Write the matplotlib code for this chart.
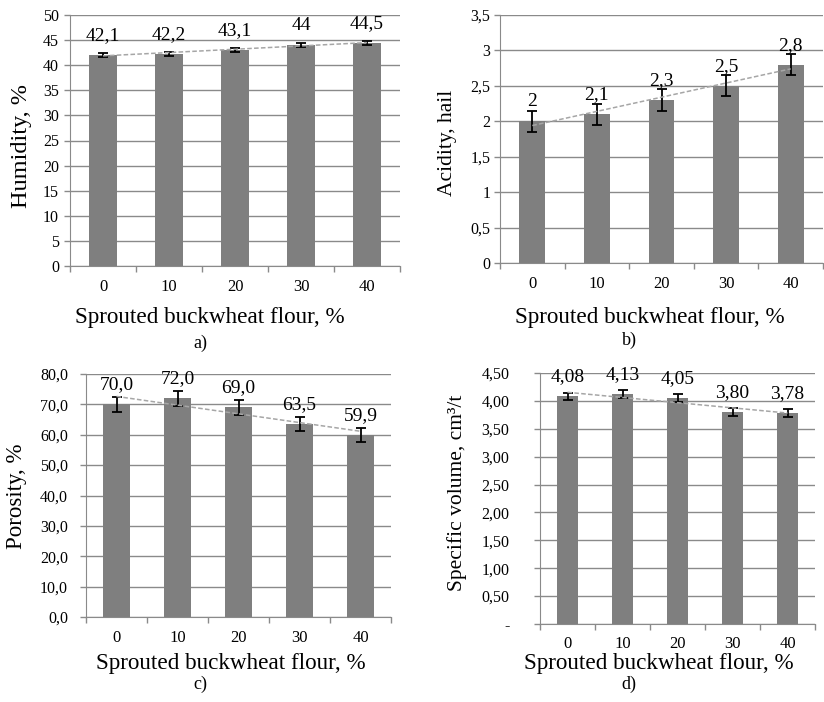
"""Figura de calidad del pan con harina de trigo sarraceno germinado:
humedad, acidez, porosidad y volumen específico (cuatro paneles)."""

import matplotlib
matplotlib.use("Agg")
import matplotlib.pyplot as plt
import numpy as np
from matplotlib.ticker import FuncFormatter, MultipleLocator, FixedLocator

plt.rcParams["font.family"] = ["Liberation Serif", "DejaVu Serif"]

ANCHO, ALTO = 824, 702

DOSIS = ["0", "10", "20", "30", "40"]
HUMEDAD = [42.1, 42.2, 43.1, 44.0, 44.5]
ERR_HUMEDAD = [0.4, 0.4, 0.4, 0.4, 0.4]
ACIDEZ = [2.0, 2.1, 2.3, 2.5, 2.8]
ERR_ACIDEZ = [0.15, 0.15, 0.15, 0.15, 0.15]
POROSIDAD = [70.0, 72.0, 69.0, 63.5, 59.9]
ERR_POROSIDAD = [2.4, 2.4, 2.4, 2.4, 2.4]
VOLUMEN = [4.08, 4.13, 4.05, 3.80, 3.78]
ERR_VOLUMEN = [0.07, 0.07, 0.07, 0.07, 0.07]

GRIS_BARRA = "#7f7f7f"
GRIS_REJILLA = "#8a8a8a"
GRIS_TENDENCIA = "#a6a6a6"


def caja(izq, der, arriba, abajo):
    return [izq / ANCHO, 1 - abajo / ALTO, (der - izq) / ANCHO, (abajo - arriba) / ALTO]


def texto(fig, x, y, s, **kw):
    fig.text(x / ANCHO, 1 - y / ALTO, s, ha="center", va="center", **kw)


def coma(fmt):
    def f(v, _pos=None):
        return fmt(v).replace(".", ",")
    return f


def panel(fig, rect, valores, errores, ymax, paso, fmt_eje, fmt_valor,
          ancho_barra, pad_y):
    ax = fig.add_axes(caja(*rect))
    x = np.arange(len(valores))
    ax.bar(x, valores, width=ancho_barra, color=GRIS_BARRA, zorder=3)
    ax.errorbar(x, valores, yerr=errores, fmt="none", ecolor="black",
                elinewidth=1.3, capsize=3.5, capthick=1.3, zorder=4)

    # línea de tendencia lineal sobre las categorías
    k, b = np.polyfit(x, valores, 1)
    ax.plot(x, k * x + b, ls=(0, (3, 1.5)), color=GRIS_TENDENCIA, lw=1.1, zorder=5)

    for xi, v in zip(x, valores):
        ax.annotate(fmt_valor(v), (xi, v), xytext=(0, 14), textcoords="offset points",
                    ha="center", va="center", fontsize=14, zorder=6)

    ax.set_xlim(-0.5, len(valores) - 0.5)
    ax.set_ylim(0, ymax)
    ax.yaxis.set_major_locator(MultipleLocator(paso))
    ax.yaxis.set_major_formatter(FuncFormatter(fmt_eje))
    ax.grid(axis="y", color=GRIS_REJILLA, lw=1, zorder=0)

    ax.xaxis.set_major_locator(FixedLocator(np.arange(-0.5, len(valores), 1.0)))
    ax.xaxis.set_minor_locator(FixedLocator(x))
    ax.set_xticklabels([], minor=False)
    ax.set_xticklabels(DOSIS, minor=True)
    ax.tick_params(axis="x", which="major", length=4, color=GRIS_REJILLA, width=1)
    ax.tick_params(axis="x", which="minor", length=0, labelsize=12, pad=9)
    ax.tick_params(axis="y", length=4, color=GRIS_REJILLA, width=1,
                   labelsize=11.5, pad=pad_y)

    for lado in ("top", "right"):
        ax.spines[lado].set_visible(False)
    for lado in ("left", "bottom"):
        ax.spines[lado].set_color(GRIS_REJILLA)
    return ax


def main():
    fig = plt.figure(figsize=(ANCHO / 100, ALTO / 100), dpi=100)

    general = coma(lambda v: f"{v:g}")
    panel(fig, (70, 400, 15, 266), HUMEDAD, ERR_HUMEDAD, 50, 5,
          general, general, 0.41, 4)
    panel(fig, (500, 823, 15, 263), ACIDEZ, ERR_ACIDEZ, 3.5, 0.5,
          general, general, 0.40, 3)
    panel(fig, (86, 391, 374, 617), POROSIDAD, ERR_POROSIDAD, 80, 10,
          coma(lambda v: f"{v:.1f}"), coma(lambda v: f"{v:.1f}"), 0.43, 9)
    panel(fig, (540, 815, 373, 624), VOLUMEN, ERR_VOLUMEN, 4.5, 0.5,
          coma(lambda v: "-" if abs(v) < 1e-9 else f"{v:.2f}"),
          coma(lambda v: f"{v:.2f}"), 0.38, 18)

    etiqueta_x = "Sprouted buckwheat flour, %"
    texto(fig, 210, 318, etiqueta_x, fontsize=16.7)
    texto(fig, 650, 317, etiqueta_x, fontsize=16.7)
    texto(fig, 231, 664, etiqueta_x, fontsize=16.7)
    texto(fig, 659, 664, etiqueta_x, fontsize=16.7)

    texto(fig, 22, 146, "Humidity, %", fontsize=17.5, rotation=90)
    texto(fig, 447, 143, "Acidity, hail", fontsize=15.5, rotation=90)
    texto(fig, 17, 496, "Porosity, %", fontsize=16.5, rotation=90)
    texto(fig, 457, 493, "Specific volume, cm³/t", fontsize=15.5, rotation=90)

    texto(fig, 200, 343, "a)", fontsize=13)
    texto(fig, 629, 340, "b)", fontsize=13)
    texto(fig, 200, 684, "c)", fontsize=13)
    texto(fig, 629, 684, "d)", fontsize=13)

    fig.savefig("out.png", dpi=100)
    plt.close(fig)


if __name__ == "__main__":
    main()
